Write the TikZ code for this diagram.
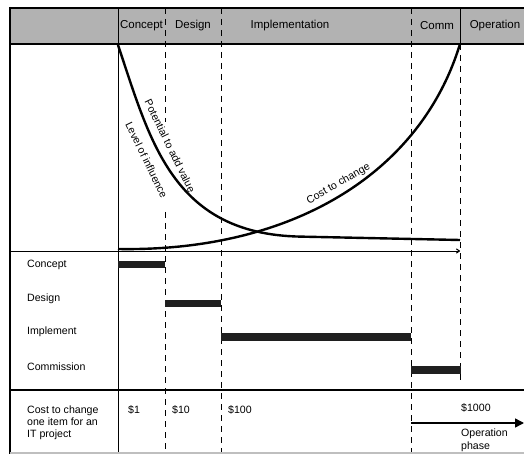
\documentclass[tikz,border=0pt]{standalone}
\usepackage{fontspec}
\setmainfont{Liberation Sans}
\usetikzlibrary{arrows.meta}
\begin{document}
\begin{tikzpicture}[x=1pt,y=-1pt,
  thickline/.style={line width=2pt},
  thinline/.style={line width=1pt},
  dashline/.style={line width=1pt,dash pattern=on 6pt off 5pt},
  curveline/.style={line width=2.4pt,line join=round},
  hdr/.style={font=\fontsize{11.5}{13}\selectfont,inner sep=0pt},
  lbl/.style={font=\fontsize{10.6}{12}\selectfont,inner sep=0pt},
  barbox/.style={fill=black!88}]
\useasboundingbox (0,0) rectangle (524,454);
% header band
\fill[gray!60] (10,8) rectangle (524,44);
% dashed phase lines
\draw[dashline] (165,8) -- (165,122);
\draw[dashline] (165,212) -- (165,454);
\draw[dashline] (221,8) -- (221,454);
\draw[dashline] (411,8) -- (411,454);
\draw[dashline] (460,44) -- (460,382);
% solid frame lines
\draw[thinline] (118,8) -- (118,454);
\draw[thinline] (460,8) -- (460,44);
\draw[thickline] (9,8) -- (524,8);
\draw[thickline] (10,44) -- (524,44);
\draw[thickline] (10,7) -- (10,454);
\draw[thickline] (10,390) -- (524,390);
\draw[line width=1.5pt,gray!50] (10,453) -- (524,453);
% axis
\draw[thinline,-{To[length=4pt,width=5pt]}] (10,251) -- (460,251);
% header texts
\node[hdr] (hc) at (141.5,26) {Concept};
\node[hdr] (hd) at (193,26) {Design};
\node[hdr] (hi) at (290,26) {Implementation};
\node[hdr] (hm) at (437,26) {Comm};
\node[hdr] (ho) at (495,26) {Operation};
% curves
\draw[curveline] (118,45) .. controls (150,140) and (172,234) .. (300,236.6) -- (460,240);
\draw[curveline] (118,249) .. controls (290,252) and (420,175) .. (460,44);
\node[lbl,rotate=-64] (pv) at (170,146) {Potential to add value};
\node[lbl,rotate=-64] (li) at (146.5,160) {Level of influence};
\node[lbl,rotate=30] (cc) at (338.5,184) {Cost to change};
% gantt rows
\node[lbl,anchor=west] (gc) at (27,264.5) {Concept};
\node[lbl,anchor=west] (gd) at (27,299) {Design};
\node[lbl,anchor=west] (gi) at (27,332) {Implement};
\node[lbl,anchor=west] (gm) at (27,367) {Commission};
\fill[barbox] (118,261) rectangle (165,268);
\fill[barbox] (165,300) rectangle (221,307);
\fill[barbox] (221,333) rectangle (411,341);
\fill[barbox] (411,366) rectangle (461,374);
% bottom row
\node[lbl,anchor=north west,align=left] (ct) at (27,406) {Cost to change\\one item for an\\IT project};
\node[lbl,anchor=base west] (c1) at (128,413) {\$1};
\node[lbl,anchor=base west] (c10) at (172,413) {\$10};
\node[lbl,anchor=base west] (c100) at (228,413) {\$100};
\node[lbl,anchor=base west] (c1000) at (461,411) {\$1000};
\coordinate (as) at (411,423);
\coordinate (ae) at (524,423);
\draw[line width=1.5pt,-{Triangle[length=9pt,width=9pt]}] (as) -- (ae);
\node[lbl,anchor=north west,align=left,font=\fontsize{10.6}{13}\selectfont] (op) at (461,429) {Operation\\phase};
\end{tikzpicture}
\end{document}
